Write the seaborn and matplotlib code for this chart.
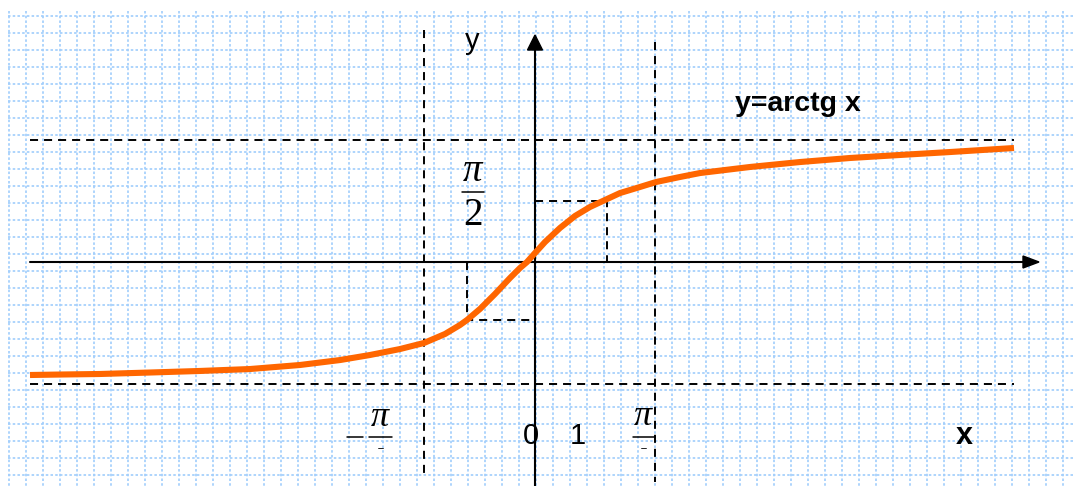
import numpy as np
import matplotlib
matplotlib.use("Agg")
import matplotlib.pyplot as plt
import seaborn as sns
import pandas as pd

# ---- data ----
curve_x = [-7.014, -6.597, -6.042, -5.347, -4.653, -3.958, -3.264, -2.708, -2.292, -1.875,
           -1.542, -1.250, -1.042, -0.944, -0.764, -0.556, -0.347, -0.208, -0.111, 0.0,
           0.139, 0.347, 0.556, 0.764, 0.972, 1.181, 1.458, 1.681, 2.014, 2.292,
           2.986, 3.681, 4.375, 5.069, 5.764, 6.653]
curve_y = [-1.458, -1.452, -1.445, -1.426, -1.406, -1.381, -1.329, -1.265, -1.200, -1.123,
           -1.045, -0.929, -0.813, -0.748, -0.606, -0.413, -0.206, -0.077, 0.0, 0.116,
           0.258, 0.439, 0.594, 0.710, 0.800, 0.890, 0.968, 1.032, 1.097, 1.148,
           1.226, 1.290, 1.342, 1.381, 1.419, 1.471]
asymptotes = [np.pi / 2, -np.pi / 2]
vlines_x = [-1.54, 1.67]
rect_pos = (1.0, np.pi / 4)
rect_neg = (-0.94, -0.748)
x_extent = (-7.01, 6.65)

sns.set_theme(style="white")
plt.rcParams["lines.scale_dashes"] = False
plt.rcParams["font.family"] = ["Liberation Sans", "DejaVu Sans"]
plt.rcParams["text.color"] = "black"

W, H = 1073, 486
fig = plt.figure(figsize=(W / 100, H / 100), dpi=100)
fig.patch.set_facecolor("white")

# background grid in pixel space
bg = fig.add_axes([0, 0, 1, 1])
bg.set_xlim(0, W)
bg.set_ylim(H, 0)
bg.axis("off")
gcol = "#a3cffc"
gstyle = (0, (1.8, 1.6))
for gx in np.arange(8.5, W, 17.0):
    bg.plot([gx, gx], [11, H], color=gcol, lw=1.25, ls=gstyle, zorder=0)
for gy in np.arange(16.0, H, 17.0):
    bg.plot([8, W], [gy, gy], color=gcol, lw=1.25, ls=gstyle, zorder=0)

# main axes in math units
ux, uy, ox, oy = 72.0, 77.5, 535.0, 262.0
ax = fig.add_axes([0, 0, 1, 1])
ax.set_facecolor("none")

def px2x(p):
    return (p - ox) / ux

def py2y(p):
    return (oy - p) / uy

dcol = "#000000"
dash = (0, (5.8, 4.3))
dlw = 1.4
# asymptotes
for a in asymptotes:
    ax.plot(list(x_extent), [a, a], color=dcol, lw=dlw, ls=dash, zorder=2)
# vertical dashed lines
ax.plot([vlines_x[0]] * 2, [py2y(30), py2y(476)], color=dcol, lw=dlw, ls=dash, zorder=2)
ax.plot([vlines_x[1]] * 2, [py2y(42), py2y(482)], color=dcol, lw=dlw, ls=dash, zorder=2)
# small rectangles
ax.plot([0, rect_pos[0], rect_pos[0]], [rect_pos[1], rect_pos[1], 0], color=dcol, lw=dlw, ls=dash, zorder=2)
ax.plot([rect_neg[0], rect_neg[0], 0], [0, rect_neg[1], rect_neg[1]], color=dcol, lw=dlw, ls=dash, zorder=2)

# axes with arrows
ax.plot([px2x(30), px2x(1024)], [0, 0], color="black", lw=1.5, zorder=3)
ax.fill([px2x(1023), px2x(1039), px2x(1023)], [py2y(256), 0, py2y(268)], color="black", zorder=3)
ax.plot([0, 0], [py2y(H), py2y(50)], color="black", lw=1.5, zorder=3)
ax.fill([px2x(527.5), 0, px2x(542.5)], [py2y(50), py2y(35), py2y(50)], color="black", zorder=3)

# curve
df = pd.DataFrame({"x": curve_x, "y": curve_y})
sns.lineplot(data=df, x="x", y="y", ax=ax, color="#ff6600", linewidth=4.4,
             sort=False, estimator=None, zorder=4, solid_joinstyle="round",
             solid_capstyle="butt")
ax.set_xlim(-ox / ux, (W - ox) / ux)
ax.set_ylim(-(H - oy) / uy, oy / uy)
ax.axis("off")

# labels
ax.text(px2x(472), py2y(41), "y", fontsize=21, color="black", ha="center", va="center")
ax.text(px2x(531), py2y(436), "0", fontsize=21, color="black", ha="center", va="center")
ax.text(px2x(578), py2y(436), "1", fontsize=21, color="black", ha="center", va="center")
ax.text(px2x(964), py2y(436), "x", fontsize=22, fontweight="bold", color="black", ha="center", va="center")
ax.text(px2x(798), py2y(104), "y=arctg x", fontsize=20.5, fontweight="bold", color="black",
        ha="center", va="center")

serif = ["Liberation Serif", "DejaVu Serif"]
# pi/2 on y axis
ax.text(px2x(473), py2y(171), "π", fontsize=28, family=serif, style="italic", color="black",
        ha="center", va="center")
ax.plot([px2x(462), px2x(484)], [py2y(192)] * 2, color="black", lw=1.1)
ax.text(px2x(473), py2y(215), "2", fontsize=28, family=serif, color="black", ha="center", va="center")

# -pi/2 on x axis (cut)
ax.text(px2x(380), py2y(417), "π", fontsize=26, family=serif, style="italic", color="black",
        ha="center", va="center")
ax.plot([px2x(347), px2x(363)], [py2y(437)] * 2, color="black", lw=1.1)
ax.plot([px2x(369), px2x(392)], [py2y(437)] * 2, color="black", lw=1.1)
ax.plot([px2x(378), px2x(383)], [py2y(448)] * 2, color="black", lw=0.6)
# pi/2 on x axis (cut)
ax.text(px2x(643), py2y(416), "π", fontsize=26, family=serif, style="italic", color="black",
        ha="center", va="center")
ax.plot([px2x(633), px2x(655)], [py2y(437)] * 2, color="black", lw=1.1)
ax.plot([px2x(641), px2x(646)], [py2y(448)] * 2, color="black", lw=0.6)

fig.savefig("out.png", dpi=100)
